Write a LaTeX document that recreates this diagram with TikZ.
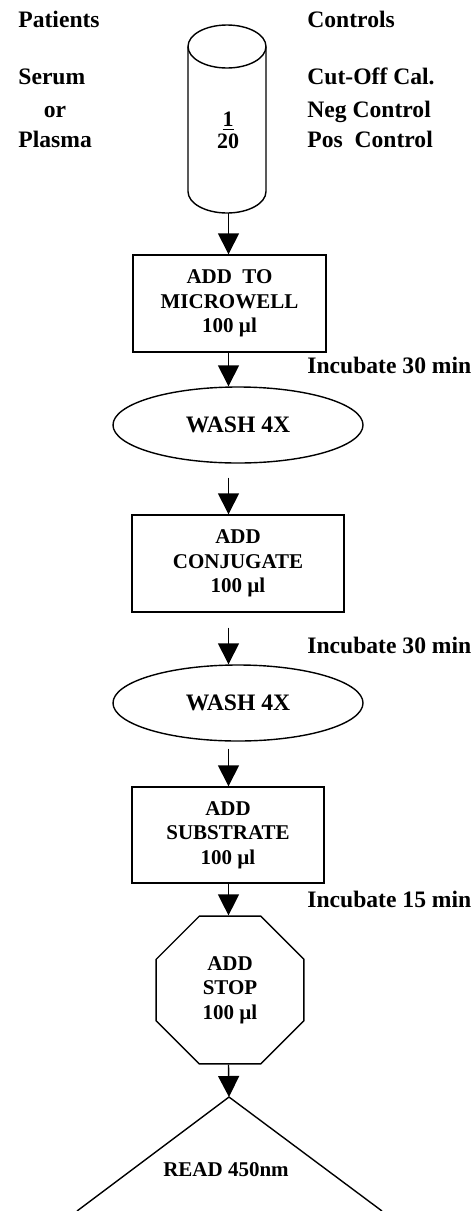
\documentclass[tikz,border=0pt]{standalone}
\usepackage{fontspec}
\setmainfont{Liberation Serif}
\usetikzlibrary{arrows.meta,shapes.geometric,positioning}
\tikzset{>={Triangle[width=10.5pt,length=10.5pt]}}
\tikzset{
  lbl/.style={font=\bfseries\fontsize{11.8}{14}\selectfont, inner sep=0pt},
  stepbox/.style={draw, line width=0.7pt, align=center, inner sep=0pt,
    font=\bfseries\fontsize{10.5}{12.3}\selectfont},
  wash/.style={draw, ellipse, line width=0.7pt, inner sep=0pt,
    minimum width=125pt, minimum height=38pt,
    font=\bfseries\fontsize{11.8}{14}\selectfont},
  flow/.style={->, line width=0.7pt},
}

\begin{document}
\begin{tikzpicture}[x=0.5pt, y=0.5pt]
    \useasboundingbox (0,0) rectangle (473,-1211);

    % samples and controls
    \node[lbl, anchor=base west] (pat) at (18,-27) {Patients};
    \node[lbl, anchor=base west] (serum) at (18,-84) {Serum};
    \node[lbl, anchor=base] (or) at (55,-117) {or};
    \node[lbl, anchor=base west] (plasma) at (18,-147) {Plasma};
    \node[lbl, anchor=base west] (ctl) at (307,-27) {Controls};
    \node[lbl, anchor=base west] (cal) at (307,-84) {Cut-Off Cal.};
    \node[lbl, anchor=base west] (neg) at (307,-117) {Neg Control};
    \node[lbl, anchor=base west] (pos) at (307,-147) {Pos~~Control};

    % dilution tube
    \draw [line width=0.7pt] (227,-46.5) ellipse (19.5pt and 10.75pt);
    \draw [line width=0.7pt] (188,-46.5)--(188,-191.5) arc (180:360:19.5pt and 10.75pt)--(266,-46.5);
    \node[lbl, align=center, font=\bfseries\fontsize{11}{11}\selectfont] (dil) at (228,-130) {\underline{1}\\20};
    \coordinate (cylbot) at (228.5,-213);
    \coordinate (axis) at (228.5,0);

    % steps
    \node[stepbox, minimum width=96.5pt, minimum height=48.5pt] (micro) at (229.5,-303.5) {ADD~~TO\\MICROWELL\\100 µl};
    \node[wash] (wash1) at (238,-425) {WASH 4X};
    \node[stepbox, minimum width=106pt, minimum height=48.5pt] (conj) at (238,-563.5) {ADD\\CONJUGATE\\100 µl};
    \node[wash] (wash2) at (238,-703) {WASH 4X};
    \node[stepbox, minimum width=96pt, minimum height=48pt] (subs) at (228,-835) {ADD\\SUBSTRATE\\100 µl};
    \node[stepbox, regular polygon, regular polygon sides=8, minimum size=80pt] (stop) at (230,-990) {ADD\\STOP\\100 µl};
    \coordinate (rd) at (229,-1097);
    \draw [line width=0.7pt] (77,-1211)--(rd)--(382,-1211);
    \node[stepbox, draw=none] (read) at (226,-1170) {READ 450nm};

    \node[lbl, anchor=base west] (inc1) at (307,-373) {Incubate 30 min};
    \node[lbl, anchor=base west] (inc2) at (307,-653) {Incubate 30 min};
    \node[lbl, anchor=base west] (inc3) at (307,-907) {Incubate 15 min};

    % arrows
    \draw [flow] (cylbot)--(micro.north -| axis);
    \draw [flow] (micro.south -| axis)--(wash1.north -| axis);
    \draw [flow, shorten <=7pt] (wash1.south -| axis)--(conj.north -| axis);
    \draw [flow, shorten <=7.5pt] (conj.south -| axis)--(wash2.north -| axis);
    \draw [flow, shorten <=3.5pt] (wash2.south -| axis)--(subs.north -| axis);
    \draw [flow] (subs.south -| axis)--(stop.north -| axis);
    \draw [flow] (stop.south -| axis)--(rd);
\end{tikzpicture}
\end{document}
